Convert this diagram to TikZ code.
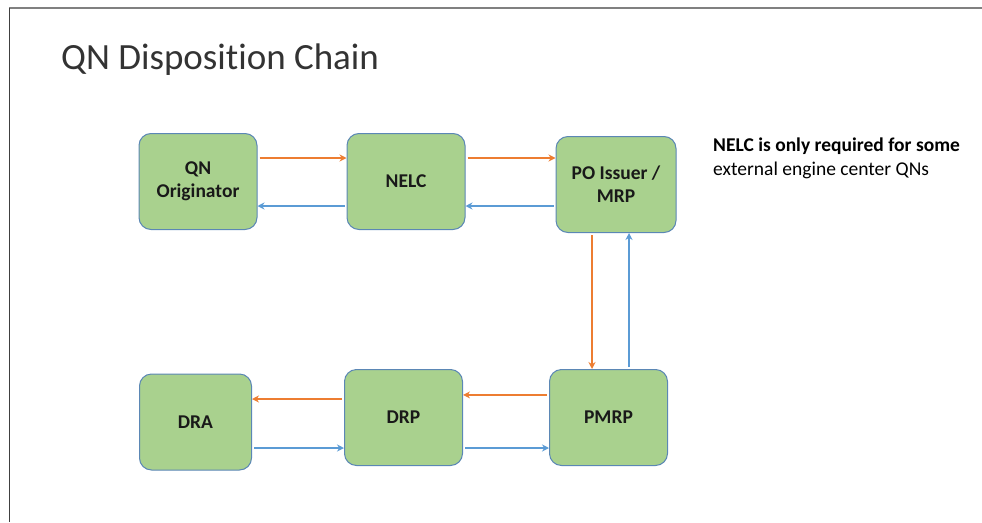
\documentclass[tikz,border=0pt]{standalone}
\usepackage{fontspec}
\setmainfont{Carlito}[Ligatures=NoCommon]
\usepackage{xcolor}
\usetikzlibrary{positioning, arrows.meta}

\definecolor{boxgreen}{HTML}{A9D18E}
\definecolor{boxedge}{HTML}{5B87B5}
\definecolor{flowout}{HTML}{ED7D31}
\definecolor{flowback}{HTML}{5B9BD5}

\begin{document}
\begin{tikzpicture}[
    x=1pt, y=-1pt,
    font=\fontsize{19.5}{23}\selectfont\bfseries,
    box/.style={draw=boxedge, line width=1pt, fill=boxgreen, rounded corners=12pt, align=center,
      minimum width=118pt, minimum height=96pt, inner sep=2pt, text=black!90},
    >={Stealth[length=7pt, width=7pt]},
    fwd/.style={->, draw=flowout, line width=1.7pt, shorten <=2pt},
    back/.style={->, draw=flowback, line width=1.7pt, shorten <=2pt},
  ]
    \useasboundingbox (0,0) rectangle (982,522);
    % slide frame
    \draw[gray, line width=1.8pt] (9,8) -- (982,8);
    \draw[black!75, line width=1.2pt] (9.5,8) -- (9.5,522);
    \node[anchor=base west, inner sep=0pt, font=\fontsize{37}{42}\selectfont, text=black!80] (title) at (61,69) {QN Disposition Chain};

    \node[box] (qn) at (198,181.5) {QN\\Originator};
    \node[box, right=89pt of qn] (nelc) {NELC};
    \node[box, right=90pt of nelc, yshift=-3pt, minimum width=120pt] (po) {PO Issuer /\\MRP};
    \node[box, below=136pt of po, xshift=-7.5pt] (pmrp) {PMRP};
    \node[box, left=86pt of pmrp] (drp) {DRP};
    \node[box, left=92pt of drp, yshift=-4.5pt, minimum width=112pt] (dra) {DRA};

    \node[anchor=base west, inner sep=0pt, align=left, font=\fontsize{19.5}{24}\selectfont\bfseries] (note) at (713,175)
      {NELC is only required for some\\\mdseries external engine center QNs};

    % top row
    \draw[fwd] ([yshift=23.5pt]qn.east) -- ([yshift=23.5pt]nelc.west);
    \draw[back] ([yshift=-24.5pt]nelc.west) -- ([yshift=-24.5pt]qn.east);
    \draw[fwd] ([yshift=23.5pt]nelc.east) -- ([yshift=23.5pt]nelc.east -| po.west);
    \draw[back] ([yshift=-21.5pt]po.west) -- ([yshift=-21.5pt]po.west -| nelc.east);
    % down and up
    \draw[fwd] ([xshift=-24pt]po.south) -- ([xshift=-24pt]po.south |- pmrp.north);
    \draw[back] ([xshift=20.5pt]pmrp.north) -- ([xshift=20.5pt]pmrp.north |- po.south);
    % bottom row
    \draw[fwd] ([yshift=22.6pt]pmrp.west) -- ([yshift=22.6pt]pmrp.west -| drp.east);
    \draw[fwd] ([yshift=18.5pt]drp.west) -- ([yshift=18.5pt]drp.west -| dra.east);
    \draw[back] ([yshift=-30.5pt]drp.east) -- ([yshift=-30.5pt]drp.east -| pmrp.west);
    \draw[back] ([yshift=-26pt]dra.east) -- ([yshift=-26pt]dra.east -| drp.west);
  \end{tikzpicture}
\end{document}
